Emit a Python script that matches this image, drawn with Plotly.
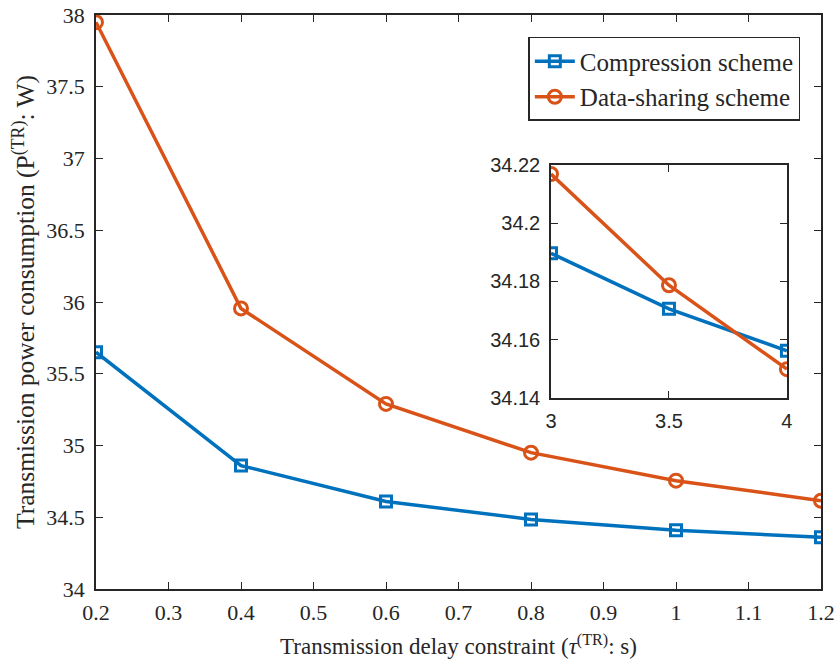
import plotly.graph_objects as go

# Main data
delay = [0.2, 0.4, 0.6, 0.8, 1.0, 1.2]
compression = [35.65, 34.86, 34.61, 34.485, 34.41, 34.36]
data_sharing = [37.95, 35.955, 35.29, 34.95, 34.755, 34.615]

# Inset data
inset_x = [3, 3.5, 4]
inset_compression = [34.1897, 34.1706, 34.1562]
inset_sharing = [34.2169, 34.1787, 34.1499]

y_ticks = [34, 34.5, 35, 35.5, 36, 36.5, 37, 37.5, 38]
y_tick_text = ["34", "34.5", "35", "35.5", "36", "36.5", "37", "37.5", "38"]
x_ticks = [0.2, 0.3, 0.4, 0.5, 0.6, 0.7, 0.8, 0.9, 1.0, 1.1, 1.2]
x_tick_text = ["0.2", "0.3", "0.4", "0.5", "0.6", "0.7", "0.8", "0.9", "1", "1.1", "1.2"]
inset_y_ticks = [34.14, 34.16, 34.18, 34.2, 34.22]
inset_y_text = ["34.14", "34.16", "34.18", "34.2", "34.22"]
inset_x_ticks = [3, 3.5, 4]
inset_x_text = ["3", "3.5", "4"]

BLUE = "#0072BD"
ORANGE = "#D95319"
SERIF = "Liberation Serif"
SANS = "Liberation Sans"

fig = go.Figure()
fig.add_trace(go.Scatter(x=delay, y=compression, mode="lines+markers", name="Compression scheme",
                         line=dict(color=BLUE, width=3.5),
                         marker=dict(symbol="square-open", size=11, line=dict(width=3, color=BLUE))))
fig.add_trace(go.Scatter(x=delay, y=data_sharing, mode="lines+markers", name="Data-sharing scheme",
                         line=dict(color=ORANGE, width=3.5),
                         marker=dict(symbol="circle-open", size=13, line=dict(width=3, color=ORANGE))))
fig.add_trace(go.Scatter(x=inset_x, y=inset_compression, mode="lines+markers", showlegend=False,
                         xaxis="x2", yaxis="y2",
                         line=dict(color=BLUE, width=3.5),
                         marker=dict(symbol="square-open", size=11, line=dict(width=3, color=BLUE))))
fig.add_trace(go.Scatter(x=inset_x, y=inset_sharing, mode="lines+markers", showlegend=False,
                         xaxis="x2", yaxis="y2",
                         line=dict(color=ORANGE, width=3.5),
                         marker=dict(symbol="circle-open", size=13, line=dict(width=3, color=ORANGE))))

axis_common = dict(showline=True, linecolor="#262626", linewidth=1.5, mirror="allticks",
                   ticks="inside", ticklen=7, tickcolor="#262626", showgrid=False, zeroline=False,
                   automargin=False)

fig.update_layout(
    template="none",
    width=837, height=666,
    margin=dict(l=96, r=16, t=15, b=77),
    paper_bgcolor="white", plot_bgcolor="white",
    font=dict(family=SERIF, size=22, color="#262626"),
    xaxis=dict(range=[0.2, 1.2], tickvals=x_ticks, ticktext=x_tick_text,
               title=dict(text="Transmission delay constraint (<i>τ</i><sup>(TR)</sup>: s)",
                          font=dict(family=SERIF, size=23), standoff=14),
               ticklabelstandoff=3,
               tickfont=dict(family=SERIF, size=22), **axis_common),
    yaxis=dict(range=[34, 38], tickvals=y_ticks, ticktext=y_tick_text,
               title=dict(text="Transmission power consumption (P<sup>(TR)</sup>: W)",
                          font=dict(family=SERIF, size=25.5), standoff=4),
               ticklabelstandoff=5,
               tickfont=dict(family=SERIF, size=22), **axis_common),
    xaxis2=dict(domain=[0.6276, 0.953], anchor="y2", range=[3, 4],
                tickvals=inset_x_ticks, ticktext=inset_x_text, ticklabelstandoff=4,
                tickfont=dict(family=SANS, size=20), **axis_common),
    yaxis2=dict(domain=[0.3328, 0.7387], anchor="x2", range=[34.14, 34.22],
                tickvals=inset_y_ticks, ticktext=inset_y_text, ticklabelstandoff=5,
                tickfont=dict(family=SANS, size=20), **axis_common),
    legend=dict(x=0.9715, y=0.9617, xanchor="right", yanchor="top",
                bgcolor="white", bordercolor="#262626", borderwidth=1.5,
                font=dict(family=SERIF, size=25), tracegroupgap=0, itemwidth=40),
)

fig.write_html("out.html")
